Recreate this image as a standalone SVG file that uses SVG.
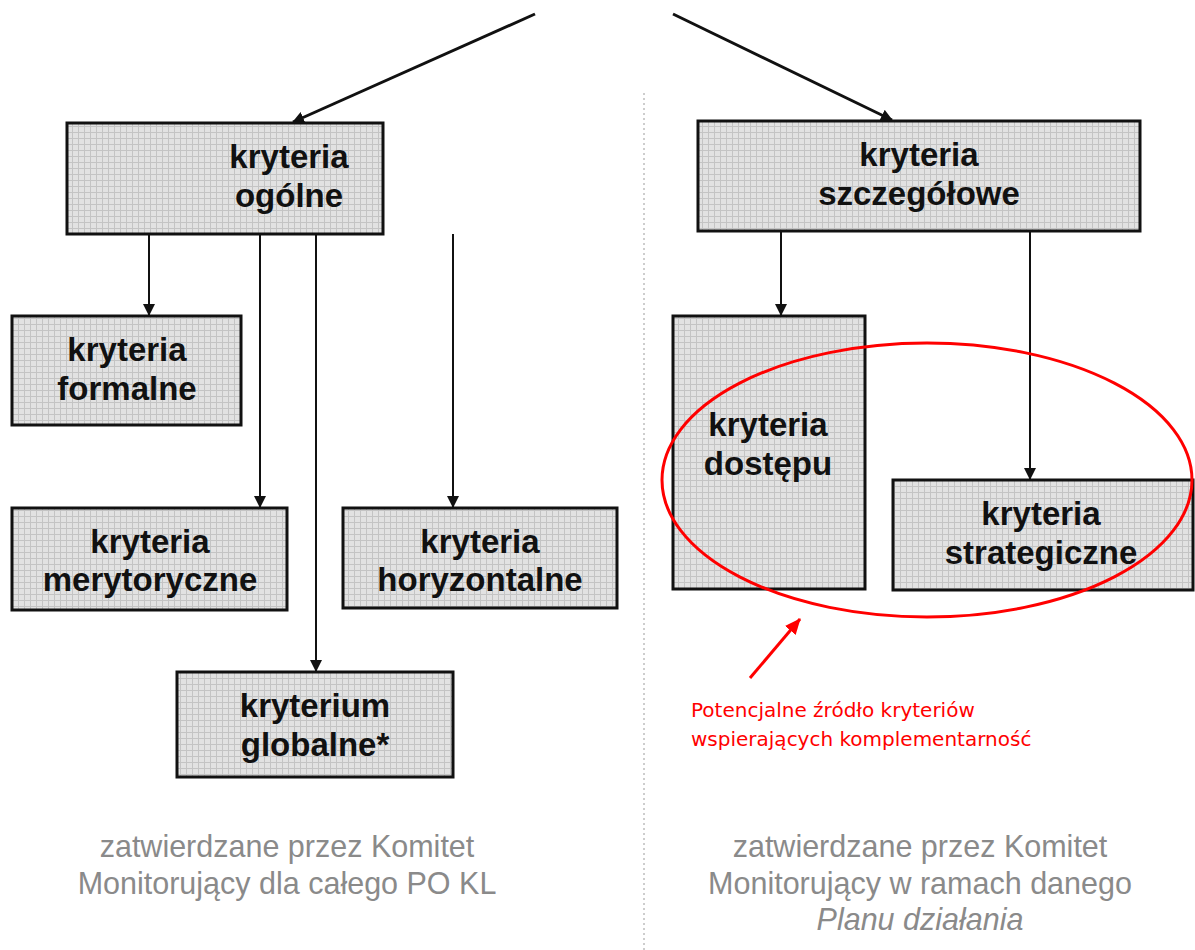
<svg xmlns="http://www.w3.org/2000/svg" width="1195" height="950" viewBox="0 0 1195 950">
<style>
.box{fill:url(#grid);stroke:#111;stroke-width:3}
.bt{font-family:"Liberation Sans",Arial,sans-serif;font-weight:bold;font-size:33px;fill:#111;text-anchor:middle}
.gt{font-family:"Liberation Sans",Arial,sans-serif;font-size:30.5px;fill:#8a8a8a;text-anchor:middle}
.rt{font-family:"DejaVu Sans",Verdana,sans-serif;font-size:20px;fill:#ff0000}
.con{stroke:#111;stroke-width:2;fill:none;marker-end:url(#ah)}
.top{stroke:#111;stroke-width:3;fill:none;marker-end:url(#ah)}
</style>
<defs>
<pattern id="grid" width="6" height="6" patternUnits="userSpaceOnUse">
<rect width="6" height="6" fill="#e2e2e2"/>
<path d="M0 0.5H6M0.5 0V6" stroke="#c4c4c4" stroke-width="1"/>
</pattern>
<marker id="ah" markerWidth="12" markerHeight="12" viewBox="0 0 12 12" refX="11" refY="6" orient="auto" markerUnits="userSpaceOnUse">
<path d="M0 0L12 6L0 12Z" fill="#111"/>
</marker>
<marker id="rah" markerWidth="16" markerHeight="16" viewBox="0 0 16 16" refX="15" refY="8" orient="auto" markerUnits="userSpaceOnUse">
<path d="M0 1L16 8L0 15Z" fill="#ff0000"/>
</marker>
</defs>
<rect width="1195" height="950" fill="#fff"/>
<line x1="644" y1="93" x2="644" y2="950" stroke="#bdbdbd" stroke-width="1.5" stroke-dasharray="2,3"/>
<g id="connectors">
<line class="top" x1="535" y1="14" x2="293" y2="122"/>
<line class="top" x1="673" y1="14" x2="892" y2="120"/>
<line class="con" x1="149" y1="234" x2="149" y2="315"/>
<line class="con" x1="260" y1="234" x2="260" y2="507"/>
<line class="con" x1="316" y1="234" x2="316" y2="671"/>
<line class="con" x1="453" y1="234" x2="453" y2="507"/>
<line class="con" x1="781" y1="231" x2="781" y2="315"/>
<line class="con" x1="1030" y1="231" x2="1030" y2="479"/>
</g>
<g id="n-ogolne"><rect class="box" x="67" y="123" width="316" height="111"/><text class="bt" x="289" y="168">kryteria</text><text class="bt" x="289" y="207">ogólne</text></g>
<g id="n-szczegolowe"><rect class="box" x="698" y="121" width="442" height="110"/><text class="bt" x="919" y="166">kryteria</text><text class="bt" x="919" y="205">szczegółowe</text></g>
<g id="n-formalne"><rect class="box" x="12" y="316" width="229" height="109"/><text class="bt" x="127" y="361">kryteria</text><text class="bt" x="127" y="400">formalne</text></g>
<g id="n-merytoryczne"><rect class="box" x="12" y="508" width="275" height="102"/><text class="bt" x="150" y="553">kryteria</text><text class="bt" x="150" y="591">merytoryczne</text></g>
<g id="n-horyzontalne"><rect class="box" x="343" y="508" width="274" height="100"/><text class="bt" x="480" y="553">kryteria</text><text class="bt" x="480" y="591">horyzontalne</text></g>
<g id="n-globalne"><rect class="box" x="177" y="672" width="276" height="105"/><text class="bt" x="315" y="717">kryterium</text><text class="bt" x="315" y="756">globalne*</text></g>
<g id="n-dostepu"><rect class="box" x="673" y="316" width="192" height="273"/><text class="bt" x="768" y="436">kryteria</text><text class="bt" x="768" y="475">dostępu</text></g>
<g id="n-strategiczne"><rect class="box" x="893" y="480" width="300" height="110"/><text class="bt" x="1041" y="525">kryteria</text><text class="bt" x="1041" y="564">strategiczne</text></g>
<g id="highlight">
<ellipse cx="927" cy="480" rx="265" ry="137" fill="none" stroke="#ff0000" stroke-width="3"/>
<line x1="750" y1="678" x2="800" y2="619" stroke="#ff0000" stroke-width="3" marker-end="url(#rah)"/>
<text class="rt" x="691" y="717">Potencjalne źródło kryteriów</text>
<text class="rt" x="691" y="746">wspierających komplementarność</text>
</g>
<g id="captions">
<text class="gt" x="287" y="857">zatwierdzane przez Komitet</text>
<text class="gt" x="287" y="894">Monitorujący dla całego PO KL</text>
<text class="gt" x="920" y="857">zatwierdzane przez Komitet</text>
<text class="gt" x="920" y="894">Monitorujący w ramach danego</text>
<text class="gt" x="920" y="930" font-style="italic">Planu działania</text>
</g>
</svg>
